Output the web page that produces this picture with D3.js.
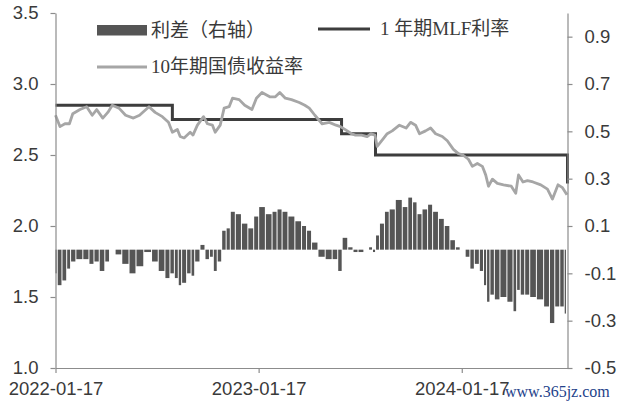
<!DOCTYPE html>
<html>
<head>
<meta charset="utf-8">
<script src="https://cdn.jsdelivr.net/npm/d3@7"></script>
<style>
  html, body { margin: 0; padding: 0; background: #fff; }
  svg { display: block; }
</style>
</head>
<body>
<svg id="chart" width="628" height="408"></svg>
<script>
// ---------- data ----------
const dates = [
  "2022-01-17","2022-01-25","2022-02-03","2022-02-11","2022-02-17","2022-03-02","2022-03-14","2022-03-24",
  "2022-04-01","2022-04-12","2022-04-21","2022-04-29","2022-05-11","2022-05-23","2022-06-06","2022-06-17",
  "2022-07-04","2022-07-15","2022-07-28","2022-08-08","2022-08-15","2022-08-24","2022-08-29","2022-09-05",
  "2022-09-16","2022-09-21","2022-09-29","2022-10-10","2022-10-17","2022-10-26","2022-10-31","2022-11-09",
  "2022-11-16","2022-11-25","2022-12-01","2022-12-13","2022-12-23","2023-01-05","2023-01-13","2023-01-23",
  "2023-02-06","2023-02-16","2023-02-24","2023-03-06","2023-03-17","2023-03-31","2023-04-10","2023-04-18",
  "2023-04-28","2023-05-11","2023-05-24","2023-06-05","2023-06-13","2023-06-21","2023-07-03","2023-07-10",
  "2023-07-21","2023-07-31","2023-08-07","2023-08-14","2023-08-18","2023-08-28","2023-09-05","2023-09-14",
  "2023-09-27","2023-10-09","2023-10-17","2023-10-26","2023-11-02","2023-11-13","2023-11-22","2023-12-01",
  "2023-12-13","2023-12-22","2024-01-02","2024-01-11","2024-01-19","2024-01-29","2024-02-05","2024-02-14",
  "2024-02-23","2024-02-29","2024-03-05","2024-03-12","2024-03-21","2024-04-01","2024-04-15","2024-04-23",
  "2024-04-28","2024-05-06","2024-05-14","2024-05-24","2024-06-07","2024-06-19","2024-06-28","2024-07-08",
  "2024-07-16","2024-07-24"
];
const yield10y = [
  2.78,2.70,2.72,2.72,2.79,2.82,2.84,2.78,
  2.82,2.76,2.80,2.85,2.83,2.78,2.76,2.78,
  2.84,2.80,2.77,2.73,2.66,2.68,2.63,2.62,
  2.66,2.64,2.71,2.77,2.72,2.71,2.66,2.71,
  2.83,2.84,2.90,2.89,2.85,2.82,2.90,2.94,
  2.91,2.91,2.94,2.90,2.89,2.87,2.85,2.83,
  2.78,2.72,2.73,2.71,2.70,2.68,2.65,2.64,
  2.64,2.63,2.65,2.64,2.56,2.61,2.65,2.67,
  2.71,2.69,2.73,2.71,2.65,2.67,2.69,2.65,
  2.63,2.60,2.54,2.51,2.50,2.47,2.42,2.44,
  2.42,2.36,2.28,2.33,2.30,2.29,2.28,2.23,
  2.36,2.31,2.32,2.31,2.29,2.26,2.19,2.29,
  2.27,2.22
];
const spread = [
  -0.10,-0.15,-0.13,-0.08,-0.05,-0.04,-0.04,-0.06,
  -0.05,-0.09,-0.05, 0.00,-0.02,-0.06,-0.10,-0.07,
  -0.01,-0.05,-0.09,-0.12,-0.10,-0.12,-0.15,-0.14,
  -0.10,-0.11,-0.05, 0.02,-0.04,-0.03,-0.09,-0.05,
   0.08, 0.09, 0.16, 0.15, 0.11, 0.09, 0.14, 0.18,
   0.15, 0.16, 0.17, 0.16, 0.14, 0.12, 0.10, 0.08,
   0.03,-0.03,-0.04,-0.04,-0.09, 0.05, 0.01,-0.01,
  -0.01, 0.00, 0.01,-0.01, 0.06, 0.11, 0.16, 0.17,
   0.21, 0.18, 0.22, 0.20, 0.15, 0.17, 0.19, 0.16,
   0.13, 0.10, 0.04, 0.01, 0.00,-0.03,-0.08,-0.06,
  -0.09,-0.15,-0.22,-0.19,-0.21,-0.20,-0.22,-0.26,
  -0.17,-0.19,-0.19,-0.20,-0.21,-0.24,-0.31,-0.24,
  -0.24,-0.27
];
const mlfDates = ["2022-01-17","2022-08-15","2023-06-15","2023-08-15","2024-07-25"];
const mlfRates = [2.85, 2.75, 2.65, 2.50, 2.30];
const xTicks = ["2022-01-17","2023-01-17","2024-01-17"];
const leftTicks = [1.0, 1.5, 2.0, 2.5, 3.0, 3.5];
const rightTicks = [-0.5, -0.3, -0.1, 0.1, 0.3, 0.5, 0.7, 0.9];
const seriesNames = ["利差（右轴）", "1 年期MLF利率", "10年期国债收益率"];
const xDomain = ["2022-01-17", "2024-07-25"];

// ---------- layout ----------
const parse = d3.timeParse("%Y-%m-%d");
const L = 55.5, R = 567.5, T = 13, B = 368;
const svg = d3.select("#chart");

const x = d3.scaleTime().domain(xDomain.map(parse)).range([L, R]);
const yL = d3.scaleLinear().domain([1.0, 3.5]).range([B, T]);
const yR = d3.scaleLinear().domain([-0.5, 1.0]).range([B, T]);

const axisColor = "#8c8c8c";
const textColor = "#3a3a3a";
const tickFont = "'Liberation Sans', Arial, sans-serif";

// ---------- bars (spread, right axis) ----------
const px = dates.map(d => x(parse(d)));
const bars = spread.map((v, i) => {
  const left = i === 0 ? px[0] : (px[i - 1] + px[i]) / 2;
  const right = i === px.length - 1 ? px[i] : (px[i] + px[i + 1]) / 2;
  return { v, left, right };
});
svg.append("g").selectAll("rect").data(bars).join("rect")
  .attr("x", d => d.left)
  .attr("width", d => Math.max(0.6, d.right - d.left - 1))
  .attr("y", d => Math.min(yR(d.v), yR(0)))
  .attr("height", d => Math.abs(yR(d.v) - yR(0)))
  .attr("fill", "#555555");

// ---------- MLF step line ----------
const mlfData = mlfDates.map((d, i) => [parse(d), mlfRates[i]]);
svg.append("path")
  .datum(mlfData)
  .attr("fill", "none")
  .attr("stroke", "#3d3d3d")
  .attr("stroke-width", 3)
  .attr("d", d3.line().x(d => x(d[0])).y(d => yL(d[1])).curve(d3.curveStepAfter));

// ---------- 10y yield line ----------
const yData = dates.map((d, i) => [parse(d), yield10y[i]]);
svg.append("path")
  .datum(yData)
  .attr("fill", "none")
  .attr("stroke", "#a6a6a6")
  .attr("stroke-width", 2.8)
  .attr("stroke-linejoin", "round")
  .attr("d", d3.line().x(d => x(d[0])).y(d => yL(d[1])));

// ---------- axes ----------
function styleAxis(g) {
  g.selectAll("path.domain").attr("stroke", axisColor).attr("stroke-width", 1.2);
  g.selectAll(".tick line").attr("stroke", axisColor).attr("stroke-width", 1.2);
  g.selectAll(".tick text").attr("fill", textColor)
    .style("font-family", tickFont).style("font-size", "18.5px");
}
const gL = svg.append("g").attr("transform", `translate(${L},0)`)
  .call(d3.axisLeft(yL).tickValues(leftTicks).tickSize(5).tickSizeOuter(0).tickPadding(12)
    .tickFormat(d => d.toFixed(1)));
styleAxis(gL);

const gR = svg.append("g").attr("transform", `translate(${R},0)`)
  .call(d3.axisRight(yR).tickValues(rightTicks).tickSize(5).tickSizeOuter(0).tickPadding(12)
    .tickFormat(d => d.toFixed(1)));
styleAxis(gR);

const gX = svg.append("g").attr("transform", `translate(0,${B})`)
  .call(d3.axisBottom(x).tickValues(xTicks.map(parse)).tickSize(5).tickSizeOuter(0).tickPadding(4)
    .tickFormat(d3.timeFormat("%Y-%m-%d")));
styleAxis(gX);
gX.selectAll(".tick text").attr("dy", "0.95em");

// ---------- legend ----------
const legFont = "'Liberation Serif', 'Times New Roman', 'Noto Sans CJK SC', serif";
const leg = svg.append("g").style("font-family", legFont).style("font-size", "19px").attr("fill", textColor);
leg.append("rect").attr("x", 97).attr("y", 25).attr("width", 50).attr("height", 10.5).attr("fill", "#555555");
leg.append("text").attr("x", 151).attr("y", 30).attr("dy", "0.35em").text(seriesNames[0]);
leg.append("line").attr("x1", 318).attr("x2", 370).attr("y1", 29).attr("y2", 29)
  .attr("stroke", "#3d3d3d").attr("stroke-width", 3);
leg.append("text").attr("x", 380).attr("y", 28.5).attr("dy", "0.35em").text(seriesNames[1]);
leg.append("line").attr("x1", 97).attr("x2", 147).attr("y1", 67).attr("y2", 67)
  .attr("stroke", "#a6a6a6").attr("stroke-width", 3);
leg.append("text").attr("x", 151).attr("y", 66).attr("dy", "0.35em").text(seriesNames[2]);

// ---------- watermark ----------
svg.append("text").attr("x", 505).attr("y", 397)
  .style("font-family", "'Liberation Serif', serif").style("font-size", "16px")
  .attr("fill", "#24428a").text("www.365jz.com");
</script>
</body>
</html>
